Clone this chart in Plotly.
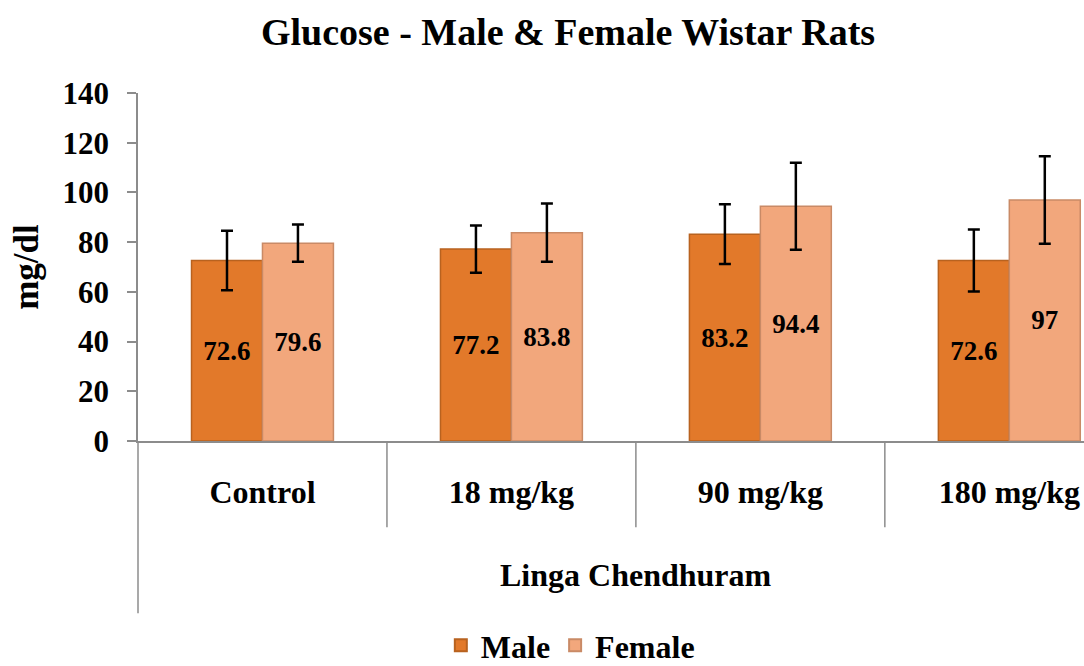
import plotly.graph_objects as go

categories = ["Control", "18 mg/kg", "90 mg/kg", "180 mg/kg"]
male = [72.6, 77.2, 83.2, 72.6]
female = [79.6, 83.8, 94.4, 97]
male_err = [12, 9.5, 12, 12.5]
female_err = [7.5, 11.7, 17.5, 17.6]
y_ticks = [0, 20, 40, 60, 80, 100, 120, 140]
group_label = "Linga Chendhuram"

FONT = "Liberation Serif"
fig = go.Figure()
fig.add_trace(go.Bar(
    name="Male", x=categories, y=male,
    marker=dict(color="#E2792A", line=dict(color="#B8621F", width=1.5)),
    error_y=dict(type="data", array=male_err, color="black", thickness=2.5, width=6),
    text=[f"{v:g}" for v in male], textposition="inside", insidetextanchor="middle",
    textfont=dict(family=FONT, size=27, color="black", weight="bold"),
))
fig.add_trace(go.Bar(
    name="Female", x=categories, y=female,
    marker=dict(color="#F2A77C", line=dict(color="#C98A66", width=1.5)),
    error_y=dict(type="data", array=female_err, color="black", thickness=2.5, width=6),
    text=[f"{v:g}" for v in female], textposition="inside", insidetextanchor="middle",
    textfont=dict(family=FONT, size=27, color="black", weight="bold"),
))

# category dividers (multi-level axis look)
for b in [0.5, 1.5, 2.5]:
    fig.add_shape(type="line", xref="x", yref="paper", x0=b, x1=b, y0=0, y1=-0.248,
                  line=dict(color="#8C8C8C", width=1.5))
fig.add_shape(type="line", xref="paper", yref="paper", x0=0, x1=0, y0=0, y1=-0.495,
              line=dict(color="#8C8C8C", width=1.5))

fig.add_annotation(text=group_label, xref="x", yref="paper", x=1.5, y=-0.386,
                   showarrow=False, yanchor="middle",
                   font=dict(family=FONT, size=32, color="black", weight="bold"))

fig.update_layout(
    width=1084, height=666,
    margin=dict(l=138, r=0, t=93, b=225, autoexpand=False),
    paper_bgcolor="white", plot_bgcolor="white",
    barmode="group", bargap=0.43, bargroupgap=0,
    title=dict(text="Glucose - Male & Female Wistar Rats", xref="container", x=0.524,
               xanchor="center", yref="container", y=0.952, yanchor="middle",
               font=dict(family=FONT, size=38, color="black", weight="bold")),
    font=dict(family=FONT, color="black"),
    showlegend=True,
    legend=dict(orientation="h", xref="paper", x=0.457, xanchor="center",
                yref="container", y=0.072, yanchor="top",
                font=dict(family=FONT, size=32, color="black", weight="bold"),
                itemsizing="constant"),
)
fig.update_xaxes(
    range=[-0.5, 3.3], showline=True, linecolor="#8C8C8C", linewidth=1.5,
    ticks="", showgrid=False, ticklabelstandoff=22,
    tickfont=dict(family=FONT, size=32, color="black", weight="bold"),
)
fig.update_yaxes(
    range=[0, 140], tickvals=y_ticks, showline=True, linecolor="#8C8C8C", linewidth=1.5,
    ticks="outside", ticklen=9, tickcolor="#8C8C8C", tickwidth=1.5, showgrid=False,
    zeroline=False, ticklabelstandoff=12,
    tickfont=dict(family=FONT, size=31, color="black", weight="bold"),
    title=dict(text="mg/dl", standoff=13,
               font=dict(family=FONT, size=35, color="black", weight="bold")),
)

fig.write_html("out.html", config={"displayModeBar": False},
               post_script="document.body.style.margin='0';document.body.style.overflow='hidden';")
